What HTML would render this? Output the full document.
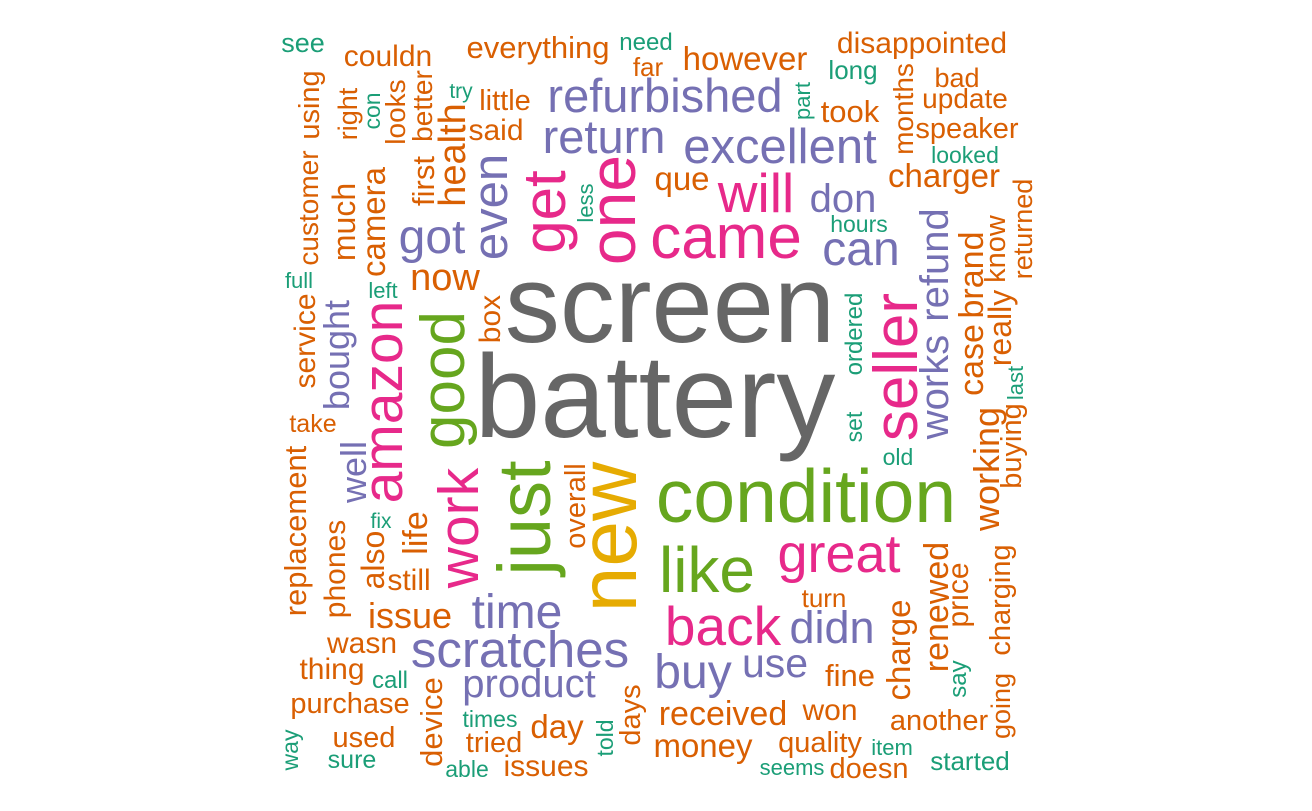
<!DOCTYPE html>
<html><head><meta charset="utf-8"><style>
html,body{margin:0;padding:0;background:#fff;}
svg{display:block;}
text{font-family:"Liberation Sans",Arial,sans-serif;}
</style></head>
<body>
<svg id="cloud" width="1312" height="811" viewBox="0 0 1312 811" xmlns="http://www.w3.org/2000/svg">
<rect width="1312" height="811" fill="#fff"/>
<g id="words"></g>
</svg>
<script>
// word cloud data
const words = ["see","couldn","everything","need","far","however","disappointed","long","bad","update","speaker","looked","charger","took","refurbished","return","excellent","little","said","try","que","will","don","hours","came","can","got","now","left","full","screen","battery","condition","like","great","turn","back","didn","buy","use","fine","received","won","money","quality","item","seems","doesn","another","started","time","scratches","issue","wasn","thing","call","product","purchase","times","day","used","tried","sure","able","issues","still","fix","take","old",
"using","customer","service","replacement","phones","well","bought","much","right","con","looks","camera","better","first","health","even","get","one","less","box","amazon","good","work","just","new","overall","life","also","device","days","told","way","part","months","seller","ordered","refund","works","case","brand","know","returned","really","last","working","buying","set","charge","renewed","price","charging","say","going"];
const sizes = [27,30,31,24,26,33,30,26,27,28,29,23,33,31,47,47,49,29,30,21,33,55,40,23,62,48,48,38,22,22,110,118,75,64,54,26,55,45,48,41,31,34,30,33,29,22,22,29,29,26,48,51,36,30,30,24,40,29,23,33,29,29,25,23,30,30,21,25,23,
29,28,30,31,30,36,36,32,27,23,28,33,28,31,38,49,60,66,22,30,57,62,57,74,82,29,34,32,31,29,23,23,22,28,62,24,40,40,34,34,29,27,32,22,36,29,23,33,34,30,29,24,27];
const colorGroup = ["t","o","o","t","o","o","o","t","o","o","o","t","o","o","p","p","p","o","o","t","o","k","p","t","k","p","p","o","t","t","g","g","n","n","k","o","k","p","p","p","o","o","o","o","o","t","t","o","o","t","p","p","o","o","o","t","p","o","t","o","o","o","t","t","o","o","t","o","t",
"o","o","o","o","o","p","p","o","o","t","o","o","o","o","o","p","k","k","t","o","k","n","k","n","y","o","o","o","o","o","t","t","t","o","k","t","p","p","o","o","o","o","o","t","o","o","t","o","o","o","o","t","o"];
const rot = [0,0,0,0,0,0,0,0,0,0,0,0,0,0,0,0,0,0,0,0,0,0,0,0,0,0,0,0,0,0,0,0,0,0,0,0,0,0,0,0,0,0,0,0,0,0,0,0,0,0,0,0,0,0,0,0,0,0,0,0,0,0,0,0,0,0,0,0,0,
1,1,1,1,1,1,1,1,1,1,1,1,1,1,1,1,1,1,1,1,1,1,1,1,1,1,1,1,1,1,1,1,1,1,1,1,1,1,1,1,1,1,1,1,1,1,1,1,1,1,1,1,1];
// layout: horizontal -> (centre x, baseline y); rotated -> (baseline x, centre y)
const layoutX = [303,388,538,646,648,745,922,853,957,965,967,965,944,850,665,604,780,505,496,461,682,756,843,859,726,861,432,445,383,299,670,655,806,707,839,824,723,832,693,775,850,723,830,703,820,892,792,869,939,970,517,520,410,362,332,390,529,350,490,557,364,494,352,467,546,409,381,313,898,
319,318,315,306,345,366,349,355,357,380,405,385,432,434,465,507,565,635,593,500,402,464,478,550,636,585,427,384,442,640,613,298,810,913,917,862,948,948,983,983,1005,1032,1011,1023,999,1021,862,910,948,968,1010,966,1010];
const layoutY = [52,66,58,50,76,70,53,79,87,108,138,163,187,122,112,153,163,110,140,98,190,212,212,232,258,265,253,290,298,288,342,437,522,592,572,607,645,643,688,677,686,725,720,757,752,755,775,778,730,770,628,667,628,653,679,688,697,713,727,738,747,752,768,777,776,590,528,432,465,
105,208,341,531,569,472,355,222,114,111,112,222,106,181,155,207,212,210,203,319,402,380,528,518,537,506,533,560,722,715,738,750,101,109,367,334,265,387,360,275,249,229,328,383,469,446,427,650,607,595,600,679,706];

const palette = {t:"#1B9E77",o:"#D95F02",p:"#7570B3",k:"#E7298A",n:"#66A61E",y:"#E6AB02",g:"#666666"};
const g = document.getElementById('words');
const NS = "http://www.w3.org/2000/svg";
for (let i = 0; i < words.length; i++) {
  const el = document.createElementNS(NS, 'text');
  const x = layoutX[i], y = layoutY[i];
  el.setAttribute('x', x);
  el.setAttribute('y', y);
  el.setAttribute('text-anchor', 'middle');
  el.setAttribute('font-size', sizes[i]);
  el.setAttribute('fill', palette[colorGroup[i]]);
  if (rot[i]) el.setAttribute('transform', 'rotate(-90 ' + x + ' ' + y + ')');
  el.textContent = words[i];
  
  
  g.appendChild(el);
}
</script>
</body></html>
